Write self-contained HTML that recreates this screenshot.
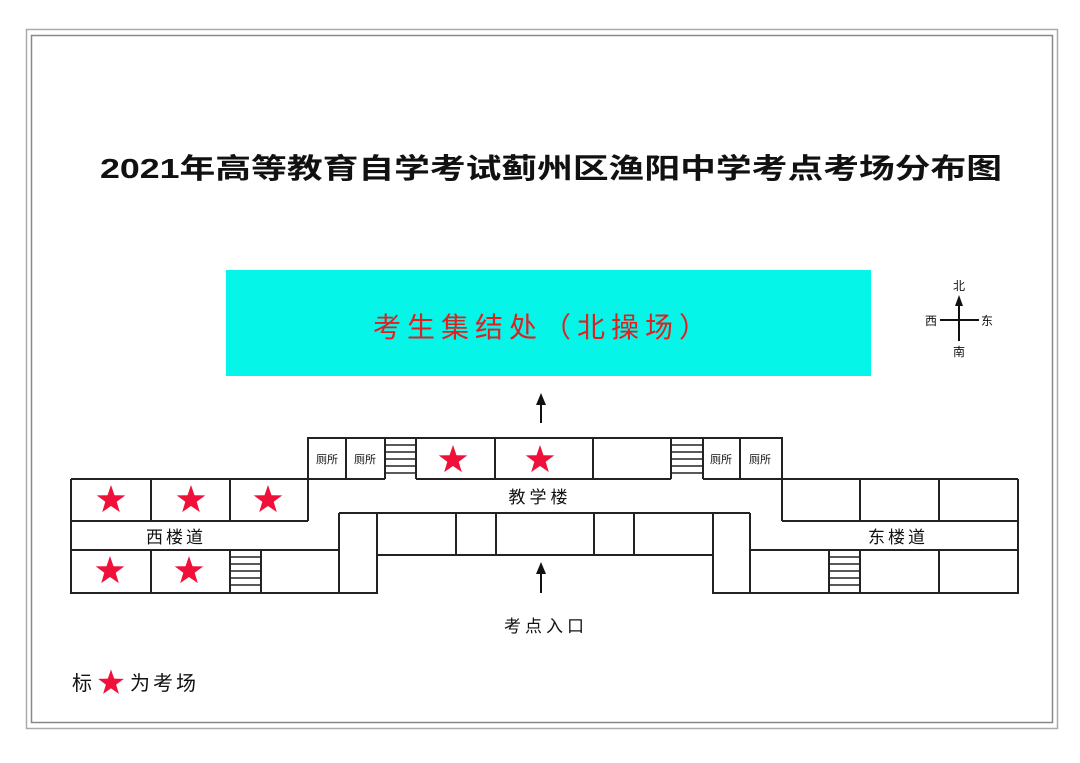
<!DOCTYPE html>
<html><head><meta charset="utf-8"><style>
html,body{margin:0;padding:0;background:#fff;}
svg{display:block;}
text{font-family:"Liberation Sans","Noto Sans CJK SC",sans-serif;}
</style></head><body>
<svg width="1080" height="763" viewBox="0 0 1080 763" xmlns="http://www.w3.org/2000/svg">
<defs>
<polygon id="st" points="0,-15 3.5,-4.8 14.3,-4.6 5.7,1.8 8.8,12.1 0,6 -8.8,12.1 -5.7,1.8 -14.3,-4.6 -3.5,-4.8" fill="#f0113a"/>
</defs>
<rect x="26.5" y="29.5" width="1031" height="699" fill="none" stroke="#aaa" stroke-width="1.5"/>
<rect x="31.5" y="35.5" width="1021" height="687" fill="none" stroke="#888" stroke-width="1.5"/>
<text x="100" y="178" font-size="28" font-weight="bold" textLength="902" lengthAdjust="spacingAndGlyphs" fill="#111">2021年高等教育自学考试蓟州区渔阳中学考点考场分布图</text>
<rect x="226" y="270" width="645" height="106" fill="#05f5e8"/>
<text x="373" y="337" font-size="28" fill="#e02020" font-family="'Noto Serif CJK SC',serif" textLength="334" lengthAdjust="spacing">考生集结处（北操场）</text>
<g stroke="#111" stroke-width="2" fill="none">
<line x1="959" y1="304" x2="959" y2="341"/><line x1="940" y1="320" x2="979" y2="320"/></g>
<polygon points="959,295 955,306 963,306" fill="#111"/>
<g font-size="12" fill="#111" text-anchor="middle">
<text x="959" y="290">北</text><text x="931" y="325">西</text><text x="987" y="325">东</text><text x="959" y="356">南</text></g>
<line x1="541" y1="423" x2="541" y2="402" stroke="#111" stroke-width="2"/>
<polygon points="541,393 536,405 546,405" fill="#111"/>
<line x1="541" y1="593" x2="541" y2="572" stroke="#111" stroke-width="2"/>
<polygon points="541,562 536,574 546,574" fill="#111"/>
<g stroke="#222" stroke-width="2" fill="none">
<polyline points="308,521 308,438 782,438 782,521"/>
<line x1="346" y1="438" x2="346" y2="479"/><line x1="385" y1="438" x2="385" y2="479"/>
<line x1="416" y1="438" x2="416" y2="479"/><line x1="495" y1="438" x2="495" y2="479"/>
<line x1="593" y1="438" x2="593" y2="479"/><line x1="671" y1="438" x2="671" y2="479"/>
<line x1="703" y1="438" x2="703" y2="479"/><line x1="740" y1="438" x2="740" y2="479"/>
<line x1="308" y1="479" x2="385" y2="479"/><line x1="416" y1="479" x2="671" y2="479"/><line x1="703" y1="479" x2="1018" y2="479"/>
<line x1="71" y1="479" x2="308" y2="479"/>
<polyline points="71,479 71,593 377,593 377,513"/>
<line x1="71" y1="521" x2="308" y2="521"/>
<line x1="71" y1="550" x2="339" y2="550"/>
<line x1="151" y1="479" x2="151" y2="521"/><line x1="230" y1="479" x2="230" y2="521"/>
<line x1="151" y1="550" x2="151" y2="593"/><line x1="230" y1="550" x2="230" y2="593"/>
<line x1="261" y1="550" x2="261" y2="593"/><line x1="339" y1="513" x2="339" y2="593"/>
<line x1="339" y1="513" x2="750" y2="513"/>
<line x1="377" y1="555" x2="713" y2="555"/>
<line x1="456" y1="513" x2="456" y2="555"/><line x1="496" y1="513" x2="496" y2="555"/>
<line x1="594" y1="513" x2="594" y2="555"/><line x1="634" y1="513" x2="634" y2="555"/>
<polyline points="713,513 713,593 1018,593 1018,479"/>
<line x1="750" y1="513" x2="750" y2="593"/>
<line x1="782" y1="521" x2="1018" y2="521"/>
<line x1="750" y1="550" x2="1018" y2="550"/>
<line x1="860" y1="479" x2="860" y2="521"/><line x1="939" y1="479" x2="939" y2="521"/>
<line x1="829" y1="550" x2="829" y2="593"/><line x1="860" y1="550" x2="860" y2="593"/>
<line x1="939" y1="550" x2="939" y2="593"/>
</g>
<g stroke="#222" stroke-width="1.5">
<line x1="385" y1="445" x2="416" y2="445"/><line x1="385" y1="452" x2="416" y2="452"/><line x1="385" y1="459" x2="416" y2="459"/><line x1="385" y1="466" x2="416" y2="466"/><line x1="385" y1="473" x2="416" y2="473"/>
<line x1="671" y1="445" x2="703" y2="445"/><line x1="671" y1="452" x2="703" y2="452"/><line x1="671" y1="459" x2="703" y2="459"/><line x1="671" y1="466" x2="703" y2="466"/><line x1="671" y1="473" x2="703" y2="473"/>
<line x1="230" y1="557" x2="261" y2="557"/><line x1="230" y1="564" x2="261" y2="564"/><line x1="230" y1="571" x2="261" y2="571"/><line x1="230" y1="578" x2="261" y2="578"/><line x1="230" y1="585" x2="261" y2="585"/>
<line x1="829" y1="557" x2="860" y2="557"/><line x1="829" y1="564" x2="860" y2="564"/><line x1="829" y1="571" x2="860" y2="571"/><line x1="829" y1="578" x2="860" y2="578"/><line x1="829" y1="585" x2="860" y2="585"/>
</g>
<g font-size="11" fill="#111" text-anchor="middle">
<text x="327" y="463">厕所</text><text x="365" y="463">厕所</text>
<text x="721" y="463">厕所</text><text x="760" y="463">厕所</text>
</g>
<use href="#st" x="111" y="500"/><use href="#st" x="191" y="500"/><use href="#st" x="268" y="500"/>
<use href="#st" x="110" y="571"/><use href="#st" x="189" y="571"/>
<use href="#st" x="453" y="460"/><use href="#st" x="540" y="460"/>
<g font-size="17" fill="#111" text-anchor="middle">
<text x="540" y="503" letter-spacing="4">教学楼</text>
<text x="176" y="543" letter-spacing="3">西楼道</text>
<text x="898" y="543" letter-spacing="3">东楼道</text>
<text x="546" y="632" letter-spacing="4">考点入口</text>
</g>
<text x="72" y="690" font-size="20" fill="#111">标</text>
<use href="#st" transform="translate(111,683) scale(0.9)"/>
<text x="130" y="690" font-size="20" fill="#111" letter-spacing="3">为考场</text>
</svg>
</body></html>
